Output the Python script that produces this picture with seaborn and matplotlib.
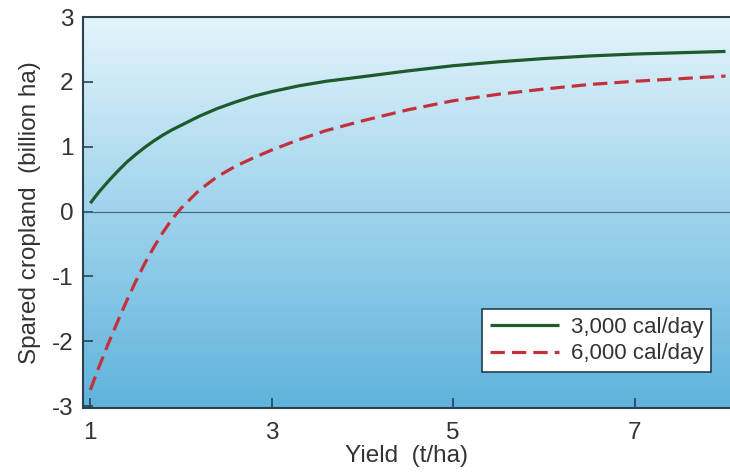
#!/usr/bin/env python3
"""Spared cropland vs yield for two diets."""

import numpy as np
import pandas as pd
import matplotlib
matplotlib.use("Agg")
import matplotlib.pyplot as plt
from matplotlib.colors import LinearSegmentedColormap
import seaborn as sns

# values
yield_t_ha = [1.0, 1.1, 1.2, 1.3, 1.4, 1.5, 1.6, 1.7, 1.8, 1.9, 2.0, 2.2, 2.4,
              2.6, 2.8, 3.0, 3.3, 3.6, 4.0, 4.5, 5.0, 5.5, 6.0, 6.5, 7.0,
              7.5, 8.0]
spared_3000 = [0.13, 0.31, 0.47, 0.62, 0.76, 0.88, 0.99, 1.09, 1.18, 1.26,
               1.33, 1.47, 1.59, 1.69, 1.78, 1.85, 1.94, 2.01, 2.08, 2.17,
               2.25, 2.31, 2.36, 2.40, 2.43, 2.45, 2.47]
spared_6000 = [-2.75, -2.38, -2.03, -1.70, -1.38, -1.08, -0.80, -0.55, -0.32,
               -0.12, 0.05, 0.33, 0.54, 0.70, 0.83, 0.95, 1.11, 1.25, 1.40,
               1.57, 1.71, 1.81, 1.89, 1.96, 2.01, 2.05, 2.09]
series_labels = ["3,000 cal/day", "6,000 cal/day"]
x_ticks = [1, 3, 5, 7]
y_ticks = [-3, -2, -1, 0, 1, 2, 3]


def main():
    sns.set_style("ticks")
    plt.rcParams["font.family"] = ["Liberation Sans", "DejaVu Sans"]
    plt.rcParams["axes.unicode_minus"] = False
    plt.rcParams["lines.solid_capstyle"] = "butt"

    df = pd.DataFrame({
        "yield": yield_t_ha * 2,
        "spared": spared_3000 + spared_6000,
        "diet": [series_labels[0]] * len(yield_t_ha)
                + [series_labels[1]] * len(yield_t_ha),
    })

    fig = plt.figure(figsize=(7.3, 4.74), dpi=100)
    ax = fig.add_axes([0.1137, 0.139, 0.8863, 0.825])

    xlim = (0.92, 8.05)
    ylim = (-3.03, 3.0)

    # pale-to-deeper blue background
    cmap = LinearSegmentedColormap.from_list(
        "bg", ["#5fb3dc", "#9fd3ec", "#e4f4fb"])
    grad = np.linspace(0, 1, 256).reshape(-1, 1)
    ax.imshow(grad, extent=[xlim[0], xlim[1], ylim[0], ylim[1]],
              aspect="auto", origin="lower", cmap=cmap, zorder=0)

    ax.axhline(0, color="#3f6e86", lw=0.9, zorder=1)

    sns.lineplot(data=df, x="yield", y="spared", hue="diet", style="diet",
                 palette=["#1d5a2c", "#c2323c"],
                 dashes={series_labels[0]: "", series_labels[1]: (4.5, 2.2)},
                 linewidth=2.3, ax=ax, zorder=3)

    ax.set_xlim(*xlim)
    ax.set_ylim(*ylim)
    ax.set_xticks(x_ticks)
    ax.set_yticks(y_ticks)

    ax.tick_params(direction="in", length=7, width=1.2, colors="#2a4250",
                   labelsize=17.5, labelcolor="#333333")
    ax.tick_params(axis="x", pad=10)
    ax.tick_params(axis="y", pad=7)
    for side in ["left", "bottom", "top"]:
        ax.spines[side].set_color("#2a4250")
        ax.spines[side].set_linewidth(1.5)
    ax.spines["right"].set_visible(False)

    ax.set_xlabel("Yield  (t/ha)", fontsize=17.5, color="#333333", labelpad=1)
    ax.set_ylabel("Spared cropland  (billion ha)", fontsize=17.5,
                  color="#333333", labelpad=8)

    leg = ax.legend(loc="lower right", bbox_to_anchor=(0.971, 0.092),
                    borderaxespad=0, fontsize=16, frameon=True,
                    fancybox=False, handlelength=3.1, handletextpad=0.55,
                    borderpad=0.35, labelspacing=0.25)
    leg.get_frame().set_facecolor("white")
    leg.get_frame().set_edgecolor("#1f4050")
    leg.get_frame().set_linewidth(1.2)
    leg.get_frame().set_alpha(1)
    for t in leg.get_texts():
        t.set_color("#333333")

    fig.savefig("out.png", dpi=100)
    plt.close(fig)


if __name__ == "__main__":
    main()
